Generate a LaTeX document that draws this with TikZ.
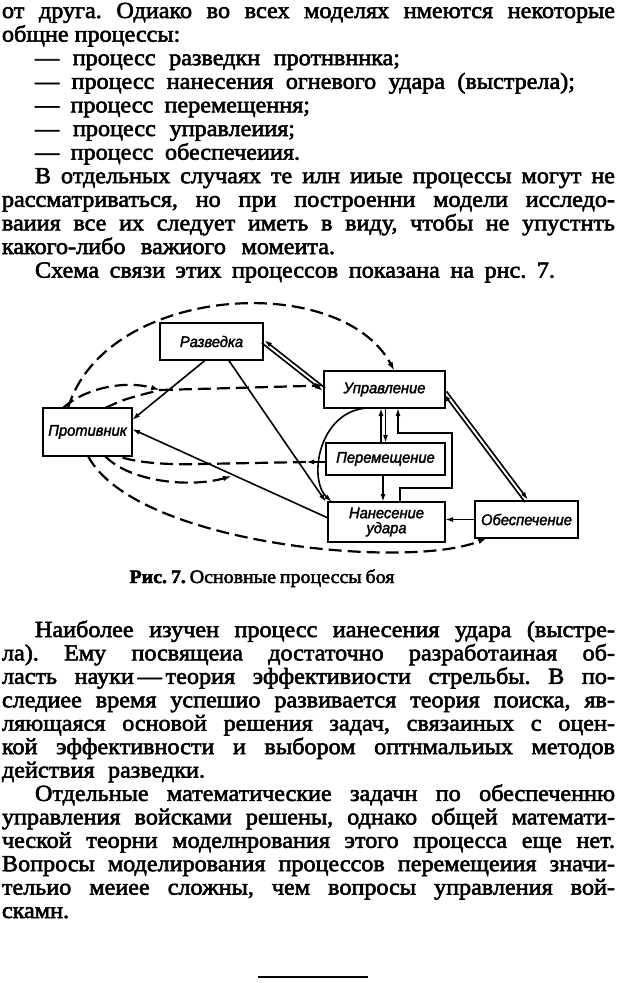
\documentclass[tikz,border=0pt]{standalone}
\usepackage{fontspec}
\setmainfont{Liberation Serif}[FakeStretch=1.05,FakeBold=2.5]
\newfontfamily\boxfont{Liberation Sans}[FakeStretch=0.95,FakeBold=2]
\usetikzlibrary{arrows.meta,calc}
\frenchspacing
\newcommand\jl[2]{\hbox to #1pt{\frenchspacing\spaceskip=.28em plus 1fil minus .15em\relax #2}}
\tikzset{
  tl/.style={inner sep=0pt,outer sep=0pt,anchor=base west,font=\fontsize{23}{24}\selectfont},
  box/.style={draw,line width=2.3pt,inner sep=0pt,outer sep=0pt,align=center,
    font=\boxfont\itshape\fontsize{15.5}{15}\selectfont},
  arr/.style={line width=1.6pt,-{Latex[length=8pt,width=5pt]}},
  dsh/.style={line width=2.2pt,dash pattern=on 13pt off 6pt},
  dtip/.style={-{Latex[length=9pt,width=5.5pt]}}
}
\begin{document}
\begin{tikzpicture}[x=1pt,y=-1pt]
\useasboundingbox (0,0) rectangle (620,983);
\fill[white] (0,0) rectangle (620,983);

% ---- upper text
\node[tl] (t1) at (2,18) {\jl{613}{от друга. Одиако во всех моделях нмеются некоторые}};
\node[tl] (t2) at (2,41.6) {общне процессы:};
\node[tl] (t3) at (35,65.2) {\jl{365}{— процесс разведкн протнвннка;}};
\node[tl] (t4) at (35,88.8) {\jl{540}{— процесс нанесения огневого удара (выстрела);}};
\node[tl] (t5) at (35,112.4) {\jl{275}{— процесс перемещення;}};
\node[tl] (t6) at (35,136) {\jl{260}{— процесс управлеиия;}};
\node[tl] (t7) at (35,159.6) {\jl{265}{— процесс обеспечеиия.}};
\node[tl] (t8) at (35,183.2) {\jl{580}{В отдельных случаях те илн ииые процессы могут не}};
\node[tl] (t9) at (2,206.8) {\jl{613}{рассматриваться, но при построенни модели исследо-}};
\node[tl] (t10) at (2,230.4) {\jl{613}{ваиия все их следует иметь в виду, чтобы не упустнть}};
\node[tl] (t11) at (2,254) {\jl{333}{какого-либо важиого момеита.}};
\node[tl] (t12) at (35,277.6) {\jl{520}{Схема связи этих процессов показана на рнс. 7.}};

% ---- boxes
\node[box,minimum width=103pt,minimum height=37pt] (razv) at (211.5,341.5) {Разведка};
\node[box,minimum width=89pt,minimum height=48pt] (prot) at (87.5,432) {Противник};
\node[box,minimum width=121pt,minimum height=37pt] (upr) at (384.5,389.5) {Управление};
\node[box,minimum width=119pt,minimum height=32pt] (per) at (385.5,459) {Перемещение};
\node[box,minimum width=117pt,minimum height=40pt] (nan) at (386.5,522) {Нанесение\\удара};
\node[box,minimum width=103pt,minimum height=37pt] (obes) at (526.5,519.5) {Обеспечение};

% ---- double connectors
\draw[arr] ($(upr.west)+(1.2,-1.5)$) -- ($(razv.east)+(1.2,-1.5)$);
\draw[arr] ($(razv.east)+(-1.2,1.5)$) -- ($(upr.west)+(-1.2,1.5)$);
\draw[arr] ($(upr.east)+(1.5,1.8)$) -- ($(obes.north)+(1.5,-1.2)$);
\draw[arr] ($(obes.north)+(-1.5,1.2)$) -- ($(upr.east)+(-1.5,4.2)$);
\draw[arr] ($(per.north)+(-4.5,0)$) -- ($(per.north |- upr.south)+(-4.5,0)$);
\draw[arr] ($(per.north |- upr.south)+(0,0)$) -- ($(per.north)+(0,0)$);

% ---- solid connectors
\coordinate (k1) at (452,488);
\coordinate (k2) at (398,433);
\draw[arr] ($(nan.north)+(13.5,0)$) |- (k1) |- (k2) -- ($(upr.south)+(13.5,0)$);
\draw[arr] ($(per.south)+(-2.5,0)$) -- ($(per.south |- nan.north)+(-2.5,0)$);
\draw[arr] (obes.west) -- (obes.west -| nan.east);
\draw[arr] ($(upr.south)+(-18,0)$) .. controls (318,412) and (308,480) .. ($(nan.north west)+(4,0)$);
\draw[arr] ($(razv.south)+(-6,0)$) -- ($(prot.east)+(0,-12)$);
\draw[arr] ($(razv.south)+(17,0)$) -- ($(nan.north west)+(-2,0)$);
\draw[arr] ($(nan.west)+(0,-4)$) -- ($(prot.east)+(0,-3)$);

% ---- dashed connectors
\coordinate (m1) at (160,390);
\coordinate (m2) at (232,476);
\coordinate (p1) at (306,462);
\coordinate (h1) at (200,464);
\draw[dsh,dtip] ($(prot.north west)+(25,0)$) .. controls (105,285) and (340,270) .. ($(upr.north)+(10,0)$);
\draw[dsh,dtip] ($(prot.north west)+(20,0)$) .. controls (85,388) and (125,380) .. (m1);
\draw[dsh,dtip] (m1) -- ($(upr.west)+(0,-4)$);
\draw[dsh] ($(prot.north west)+(62,0)$) .. controls (125,399) .. (m1);
\draw[arr] ($(per.west)+(0,3)$) -- (p1);
\draw[dsh] (p1) -- (h1) .. controls (160,465) and (135,462) .. ($(prot.south west)+(74,0)$);
\draw[dsh,dtip] ($(prot.south west)+(62,0)$) .. controls (130,482) and (190,488) .. (m2);
\draw[dsh,dtip] ($(prot.south west)+(45,0)$) .. controls (135,545) and (410,570) .. ($(obes.south west)+(12,0)$);

% ---- caption
\node[inner sep=0pt,anchor=base,font=\fontsize{19}{19}\selectfont] (cap) at (262,583)
  {\jl{265}{\textbf{Рис. 7.} Основные процессы боя}};

% ---- lower text
\node[tl] (b1) at (35,637) {\jl{580}{Наиболее изучен процесс ианесения удара (выстре-}};
\node[tl] (b2) at (2,660.4) {\jl{613}{ла). Ему посвящеиа достаточно разработаиная об-}};
\node[tl] (b3) at (2,683.8) {\jl{613}{ласть науки\,—\,теория эффективиости стрельбы. В по-}};
\node[tl] (b4) at (2,707.3) {\jl{613}{следиее время успешио развивается теория поиска, яв-}};
\node[tl] (b5) at (2,730.7) {\jl{613}{ляющаяся основой решения задач, связаиных с оцен-}};
\node[tl] (b6) at (2,754.1) {\jl{613}{кой эффективности и выбором оптнмальиых методов}};
\node[tl] (b7) at (2,777.5) {\jl{203}{действия разведки.}};
\node[tl] (b8) at (35,800.9) {\jl{580}{Отдельные математические задачн по обеспеченню}};
\node[tl] (b9) at (2,824.4) {\jl{613}{управления войсками решены, однако общей математи-}};
\node[tl] (b10) at (2,847.8) {\jl{613}{ческой теорни моделнрования этого процесса еще нет.}};
\node[tl] (b11) at (2,871.2) {\jl{613}{Вопросы моделирования процессов перемещеиия значи-}};
\node[tl] (b12) at (2,894.6) {\jl{613}{тельио меиее сложны, чем вопросы управления вой-}};
\node[tl] (b13) at (2,918) {скамн.};

\draw[line width=2pt] (258,977) -- (368,977);
\end{tikzpicture}
\end{document}
